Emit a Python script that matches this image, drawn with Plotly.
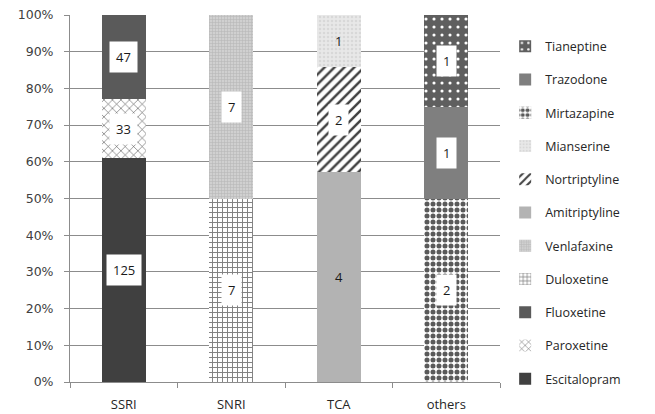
import plotly.graph_objects as go

# Antidepressant prescriptions by class (counts)
categories = ["SSRI", "SNRI", "TCA", "others"]

escitalopram = [125, None, None, None]
paroxetine = [33, None, None, None]
fluoxetine = [47, None, None, None]
duloxetine = [None, 7, None, None]
venlafaxine = [None, 7, None, None]
amitriptyline = [None, None, 4, None]
nortriptyline = [None, None, 2, None]
mianserine = [None, None, 1, None]
mirtazapine = [None, None, None, 2]
trazodone = [None, None, None, 1]
tianeptine = [None, None, None, 1]

y_ticks = [0, 10, 20, 30, 40, 50, 60, 70, 80, 90, 100]
y_tick_text = ["0%", "10%", "20%", "30%", "40%", "50%", "60%", "70%", "80%", "90%", "100%"]

# name, values, pattern shape, foreground, background, size, solidity, boxed label
series = [
    ("Escitalopram", escitalopram, "", "#404040", "#404040", 8, 0.3, True),
    ("Paroxetine", paroxetine, "x", "#4a4a4a", "#ffffff", 6, 0.18, True),
    ("Fluoxetine", fluoxetine, "", "#5a5a5a", "#5a5a5a", 8, 0.3, True),
    ("Duloxetine", duloxetine, "+", "#808080", "#ffffff", 5, 0.35, True),
    ("Venlafaxine", venlafaxine, "+", "#b8b8b8", "#d0d0d0", 3, 0.35, True),
    ("Amitriptyline", amitriptyline, "", "#b3b3b3", "#b3b3b3", 8, 0.3, False),
    ("Nortriptyline", nortriptyline, "/", "#404040", "#ffffff", 7, 0.35, True),
    ("Mianserine", mianserine, ".", "#d8d8d8", "#e8e8e8", 4, 0.3, False),
    ("Mirtazapine", mirtazapine, ".", "#5a5a5a", "#ffffff", 6, 0.55, True),
    ("Trazodone", trazodone, "", "#7f7f7f", "#7f7f7f", 8, 0.3, True),
    ("Tianeptine", tianeptine, ".", "#ffffff", "#5f5f5f", 8, 0.12, True),
]

totals = [sum((s[1][i] or 0) for s in series) for i in range(len(categories))]

fig = go.Figure()
annotations = []
base = [0.0] * len(categories)
n = len(series)
for k, (name, vals, shape, fg, bg, size, sol, boxed) in enumerate(series):
    pct = [None if v is None else v / totals[i] * 100 for i, v in enumerate(vals)]
    fig.add_trace(go.Bar(
        name=name,
        x=categories,
        y=pct,
        width=0.41,
        legendgroup=name,
        legendrank=n - k,
        marker=dict(
            color=bg,
            line=dict(width=0),
            pattern=dict(shape=shape, fgcolor=fg, bgcolor=bg, size=size,
                         solidity=sol, fillmode="replace"),
        ),
        hoverinfo="skip",
    ))
    for i, v in enumerate(vals):
        if v is None:
            continue
        mid = base[i] + pct[i] / 2
        annotations.append(dict(
            x=categories[i], y=mid, xref="x", yref="y",
            text=str(v), showarrow=False,
            font=dict(size=13, color="#1a1a1a", family="Open Sans"),
            bgcolor="#ffffff" if boxed else "rgba(0,0,0,0)",
            borderpad=6,
        ))
        base[i] += pct[i]

fig.update_layout(
    barmode="stack",
    width=655, height=414,
    margin=dict(l=70, r=155, t=15, b=32, autoexpand=False),
    paper_bgcolor="#ffffff",
    plot_bgcolor="#ffffff",
    font=dict(family="Open Sans", size=12, color="#404040"),
    showlegend=True,
    legend=dict(
        traceorder="grouped",
        x=1.012, y=0.955, xanchor="left", yanchor="top",
        tracegroupgap=14,
        font=dict(size=12.5, color="#262626"),
        itemwidth=30,
    ),
    annotations=annotations,
)

fig.update_yaxes(
    range=[0, 100],
    tickvals=y_ticks, ticktext=y_tick_text,
    showgrid=True, gridcolor="#8c8c8c", gridwidth=1,
    showline=True, linecolor="#8c8c8c", linewidth=1,
    ticks="outside", ticklen=5, tickcolor="#8c8c8c",
    ticklabelstandoff=8,
    zeroline=False, automargin=False,
    tickfont=dict(size=12.5, color="#404040", family="DejaVu Sans"),
)
fig.update_xaxes(
    showline=True, linecolor="#8c8c8c", linewidth=1,
    ticks="outside", ticklen=5, tickcolor="#8c8c8c",
    tickson="boundaries", automargin=False,
    ticklabelstandoff=10,
    tickfont=dict(size=13, color="#262626"),
)

fig.write_html("out.html")
